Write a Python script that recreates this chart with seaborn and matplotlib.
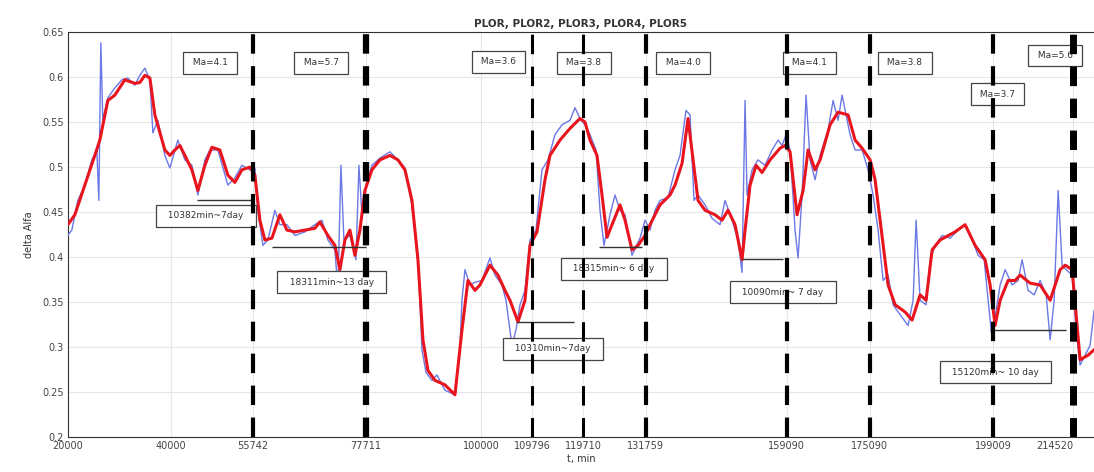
import numpy as np
import pandas as pd
import matplotlib
matplotlib.use("Agg")
import matplotlib.pyplot as plt
import seaborn as sns

# ------------------------------------------------------------
# Data
# ------------------------------------------------------------

# smoothed curve (red)
red_t = [20000, 21355, 23290, 25225, 26190, 27740, 29095, 31030, 32965, 33930,
         34900, 35870, 36835, 38770, 39740, 40705, 41670, 42640, 43995, 45155,
         46510, 47865, 49410, 50960, 52315, 53670, 55220, 56185, 57150, 58120,
         59475, 61020, 62375, 63925, 65860, 67795, 68760, 70310, 71665, 72630,
         73600, 74565, 75535, 76500, 77470, 78825, 80370, 82305, 83855, 85210,
         86565, 87725, 88695, 89660, 91015, 92950, 94885, 96240, 97400, 98755,
         99720, 101655, 103205, 104560, 105530, 107075, 108430, 109400, 110750, 112300,
         113270, 115200, 117140, 119070, 120040, 121010, 122360, 123330, 124300, 125265,
         126810, 127780, 129135, 130295, 131650, 132620, 134550, 136490, 137455, 138810,
         139970, 140940, 141905, 143260, 145195, 146550, 147710, 149065, 150420, 151000,
         151970, 153130, 154290, 155840, 157770, 158740, 159710, 161060, 162225, 163190,
         164545, 165510, 167450, 168995, 170930, 172285, 173640, 175190, 176155, 177120,
         178670, 180025, 181960, 183315, 184860, 186020, 187185, 188730, 191630, 193570,
         195505, 197440, 198405, 199375, 200340, 201890, 203245, 204210, 206145, 208080,
         210020, 211950, 212920, 214270, 215040, 215810, 217360, 218520]
red_y = [0.436, 0.447, 0.480, 0.513, 0.530, 0.574, 0.580, 0.597, 0.593, 0.594,
         0.602, 0.599, 0.558, 0.519, 0.513, 0.519, 0.524, 0.513, 0.497, 0.474,
         0.502, 0.522, 0.519, 0.491, 0.483, 0.497, 0.500, 0.491, 0.441, 0.419,
         0.421, 0.447, 0.430, 0.428, 0.430, 0.432, 0.439, 0.424, 0.413, 0.386,
         0.419, 0.430, 0.402, 0.430, 0.474, 0.497, 0.508, 0.513, 0.508, 0.497,
         0.463, 0.397, 0.308, 0.274, 0.263, 0.258, 0.247, 0.319, 0.374, 0.363,
         0.369, 0.391, 0.380, 0.363, 0.352, 0.328, 0.352, 0.413, 0.428, 0.486,
         0.513, 0.530, 0.543, 0.554, 0.550, 0.530, 0.513, 0.469, 0.422, 0.436,
         0.458, 0.441, 0.408, 0.413, 0.424, 0.436, 0.458, 0.469, 0.480, 0.504,
         0.554, 0.508, 0.463, 0.452, 0.447, 0.441, 0.452, 0.436, 0.397, 0.430,
         0.480, 0.502, 0.494, 0.508, 0.521, 0.524, 0.517, 0.447, 0.474, 0.519,
         0.497, 0.508, 0.547, 0.561, 0.558, 0.530, 0.521, 0.508, 0.486, 0.441,
         0.369, 0.347, 0.339, 0.330, 0.358, 0.352, 0.408, 0.419, 0.428, 0.436,
         0.413, 0.397, 0.369, 0.324, 0.352, 0.374, 0.374, 0.380, 0.371, 0.369,
         0.352, 0.386, 0.391, 0.386, 0.336, 0.286, 0.291, 0.297]

# raw curve (blue)
blue_t = [20000, 20775, 21935, 23290, 24645, 25610, 26000, 26385, 26770, 27740,
          29095, 30450, 31610, 32965, 33930, 34900, 35870, 36450, 37415, 38770,
          39740, 41285, 42640, 43995, 45155, 46510, 47480, 49025, 50960, 52315,
          53670, 55220, 56185, 56765, 57730, 58700, 60055, 61020, 62375, 63925,
          65860, 67795, 69150, 70310, 71665, 72245, 72825, 73405, 74565, 75730,
          76310, 76890, 77660, 78825, 80370, 82305, 83855, 85210, 86565, 87725,
          88500, 89275, 90435, 91400, 92950, 94885, 95850, 96240, 96820, 97785,
          98755, 100110, 101655, 102625, 103980, 104755, 105915, 106690, 107460, 108430,
          109400, 110560, 111720, 112880, 114235, 115590, 117140, 118105, 119070, 120040,
          121010, 122170, 122940, 123715, 124875, 125845, 126810, 127780, 129135, 130680,
          131650, 132620, 133585, 134550, 136100, 137455, 138420, 139580, 140355, 141130,
          141905, 143260, 144615, 146160, 147130, 148480, 149645, 150420, 151000, 151385,
          152350, 153515, 154870, 156225, 157385, 158160, 158935, 159710, 160675, 161255,
          162030, 162800, 163575, 164545, 165510, 167060, 168030, 168995, 169770, 170540,
          171315, 172285, 173640, 174800, 175770, 176735, 177705, 178670, 179640, 180990,
          182540, 183510, 184090, 184860, 186020, 186800, 187765, 189120, 190670, 192215,
          193570, 194925, 196085, 197250, 198020, 198795, 199570, 200340, 201310, 202665,
          203825, 204600, 205760, 206920, 208080, 209245, 210020, 210790, 211560, 212335,
          213110, 214270, 215040, 215810, 216780, 217745, 218520]
blue_y = [0.424, 0.430, 0.463, 0.480, 0.508, 0.519, 0.463, 0.638, 0.552, 0.577,
          0.588, 0.597, 0.599, 0.591, 0.602, 0.610, 0.597, 0.538, 0.552, 0.513,
          0.499, 0.530, 0.508, 0.502, 0.469, 0.508, 0.519, 0.519, 0.480, 0.488,
          0.502, 0.497, 0.499, 0.452, 0.413, 0.419, 0.452, 0.436, 0.436, 0.424,
          0.428, 0.436, 0.441, 0.419, 0.408, 0.363, 0.502, 0.419, 0.424, 0.397,
          0.502, 0.447, 0.480, 0.502, 0.510, 0.517, 0.508, 0.499, 0.458, 0.402,
          0.297, 0.272, 0.263, 0.269, 0.252, 0.247, 0.297, 0.352, 0.386, 0.369,
          0.372, 0.374, 0.399, 0.380, 0.369, 0.352, 0.302, 0.319, 0.347, 0.363,
          0.419, 0.430, 0.497, 0.508, 0.536, 0.547, 0.552, 0.566, 0.554, 0.547,
          0.536, 0.519, 0.452, 0.413, 0.447, 0.469, 0.452, 0.447, 0.402, 0.421,
          0.441, 0.430, 0.452, 0.463, 0.466, 0.497, 0.513, 0.563, 0.558, 0.463,
          0.469, 0.458, 0.443, 0.436, 0.463, 0.441, 0.419, 0.383, 0.574, 0.469,
          0.497, 0.508, 0.502, 0.519, 0.530, 0.524, 0.536, 0.519, 0.430, 0.399,
          0.469, 0.580, 0.508, 0.486, 0.513, 0.541, 0.574, 0.552, 0.580, 0.558,
          0.536, 0.519, 0.519, 0.497, 0.469, 0.430, 0.374, 0.380, 0.347, 0.336,
          0.324, 0.352, 0.441, 0.352, 0.347, 0.397, 0.413, 0.424, 0.421, 0.430,
          0.436, 0.419, 0.402, 0.397, 0.352, 0.308, 0.341, 0.369, 0.386, 0.369,
          0.374, 0.397, 0.363, 0.358, 0.374, 0.358, 0.308, 0.352, 0.474, 0.391,
          0.386, 0.380, 0.319, 0.280, 0.291, 0.302, 0.341]

# segment borders (vertical dashed lines) and their widths
borders = [55742, 77711, 109796, 119710, 131759, 159090, 175090, 199009, 214520]
border_lw = [3.0, 4.5, 2.2, 2.2, 3.0, 3.0, 3.0, 3.0, 5.0]

x_ticks = [20000, 40000, 55742, 77711, 100000, 109796, 119710, 131759,
           159090, 175090, 199009, 214520]

# "Ma=" labels at the top
ma_labels = ["Ma=4.1", "Ma=5.7", "Ma=3.6", "Ma=3.8", "Ma=4.0",
             "Ma=4.1", "Ma=3.8", "Ma=3.7", "Ma=5.6"]
ma_x = [47500, 69000, 103300, 119800, 139000, 163500, 181900, 199800, 211000]
ma_y = [0.616, 0.616, 0.617, 0.616, 0.616, 0.616, 0.616, 0.581, 0.624]

# duration labels
dur_labels = ["10382min~7day", "18311min~13 day", "10310min~7day",
              "18315min~ 6 day", "10090min~ 7 day", "15120min~ 10 day"]
dur_x = [46700, 71000, 113800, 125600, 158300, 199400]
dur_y = [0.446, 0.372, 0.298, 0.387, 0.361, 0.272]

# horizontal duration markers
seg_x0 = [45000, 59400, 106900, 122700, 150400, 198400]
seg_x1 = [55742, 77711, 118000, 131000, 158300, 213000]
seg_y = [0.463, 0.411, 0.328, 0.411, 0.398, 0.319]

# ------------------------------------------------------------
# Plot
# ------------------------------------------------------------

sns.set_style("whitegrid")
plt.rcParams["font.family"] = ["DejaVu Sans"]
plt.rcParams["lines.scale_dashes"] = False

fig = plt.figure(figsize=(10.94, 4.72), dpi=100)
ax = fig.add_axes([0.062, 0.074, 0.938, 0.858])

raw = pd.DataFrame({"t": blue_t, "a": blue_y})
smooth = pd.DataFrame({"t": red_t, "a": red_y})

sns.lineplot(data=raw, x="t", y="a", ax=ax, color="#6b78e6", linewidth=1.0, zorder=3)
sns.lineplot(data=smooth, x="t", y="a", ax=ax, color="#e8141e", linewidth=2.2, zorder=4)

for x, lw in zip(borders, border_lw):
    ax.axvline(x, color="black", linewidth=lw, linestyle=(0, (14, 9)), zorder=6)

ax.hlines(seg_y, seg_x0, seg_x1, color="#333333", linewidth=1.0, zorder=5)

box = dict(boxstyle="square,pad=0.7", fc="white", ec="#444444", lw=0.9)
for lab, x, y in zip(ma_labels, ma_x, ma_y):
    ax.text(x, y, " " + lab + " ", fontsize=6.5, color="#333333",
            ha="center", va="center", bbox=box, zorder=5)
for lab, x, y in zip(dur_labels, dur_x, dur_y):
    ax.text(x, y, "  " + lab + "  ", fontsize=6.5, color="#333333",
            ha="center", va="center", bbox=box, zorder=5)

ax.set_xlim(20000, 218500)
ax.set_ylim(0.2, 0.65)
ax.set_xticks(x_ticks)
ax.set_xticklabels([str(t) for t in x_ticks])
ax.get_xticklabels()[-1].set_horizontalalignment("right")
ax.set_yticks([0.2, 0.25, 0.3, 0.35, 0.4, 0.45, 0.5, 0.55, 0.6, 0.65])
ax.set_yticklabels(["0.2", "0.25", "0.3", "0.35", "0.4", "0.45", "0.5",
                    "0.55", "0.6", "0.65"])
ax.tick_params(direction="in", labelsize=7, labelcolor="#444444",
               length=3, color="#444444", pad=3)
ax.grid(True, color="#e6e6e6", linewidth=0.8)
for side in ["left", "bottom", "top"]:
    ax.spines[side].set_color("#333333")
    ax.spines[side].set_linewidth(0.8)
ax.spines["right"].set_visible(False)

ax.set_title("PLOR, PLOR2, PLOR3, PLOR4, PLOR5", fontsize=7.5,
             fontweight="bold", color="#333333", pad=4)
ax.set_xlabel("t, min", fontsize=7, color="#333333", labelpad=2)
ax.set_ylabel("delta Alfa", fontsize=7, color="#333333", labelpad=6)

fig.savefig("out.png", dpi=100)
